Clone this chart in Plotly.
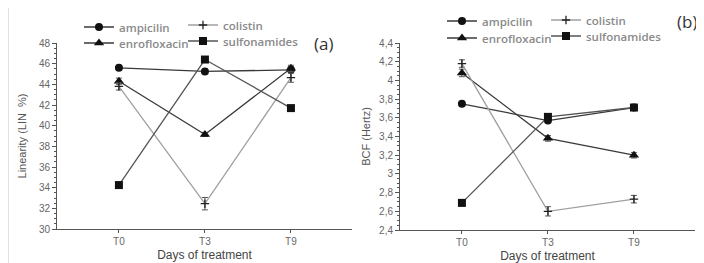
import plotly.graph_objects as go

W, H = 704, 263
OFF = 8  # page body margin
FW, FH = W - OFF, H - OFF

days = ["T0", "T3", "T9"]
drugs = ["ampicilin", "enrofloxacin", "colistin", "sulfonamides"]

lin_ampicilin = [45.6, 45.25, 45.4]
lin_enrofloxacin = [44.3, 39.15, 45.55]
lin_colistin = [43.8, 32.45, 44.65]
lin_sulfonamides = [34.25, 46.4, 41.7]
lin_err_ampicilin = [0.15, 0.2, 0.3]
lin_err_enrofloxacin = [0.3, 0.2, 0.3]
lin_err_colistin = [0.35, 0.6, 0.45]
lin_err_sulfonamides = [0.3, 0.25, 0.2]

bcf_ampicilin = [3.75, 3.57, 3.71]
bcf_enrofloxacin = [4.08, 3.38, 3.20]
bcf_colistin = [4.18, 2.60, 2.73]
bcf_sulfonamides = [2.69, 3.61, 3.71]
bcf_err_ampicilin = [0.02, 0.02, 0.02]
bcf_err_enrofloxacin = [0.04, 0.03, 0.03]
bcf_err_colistin = [0.04, 0.05, 0.04]
bcf_err_sulfonamides = [0.03, 0.03, 0.02]


def px(x):
    return (x - OFF) / FW


def py(y):
    return 1 - (y - OFF) / FH


styles = {
    "ampicilin": dict(symbol="circle", size=8, line="#3a3a3a"),
    "enrofloxacin": dict(symbol="triangle-up", size=9, line="#3a3a3a"),
    "colistin": dict(symbol="cross-thin", size=6, line="#a0a0a0"),
    "sulfonamides": dict(symbol="square", size=8, line="#555555"),
}

# legend text anchor (page px): panel -> drug -> (text_x, text_y)
legend_pos = {
    "a": {"ampicilin": (120, 27), "enrofloxacin": (120, 43), "colistin": (224, 25), "sulfonamides": (224, 41)},
    "b": {"ampicilin": (483, 21), "enrofloxacin": (483, 38), "colistin": (587, 20), "sulfonamides": (587, 36)},
}

panels = [
    ("a", "x", "y", dict(ampicilin=(lin_ampicilin, lin_err_ampicilin),
                         enrofloxacin=(lin_enrofloxacin, lin_err_enrofloxacin),
                         colistin=(lin_colistin, lin_err_colistin),
                         sulfonamides=(lin_sulfonamides, lin_err_sulfonamides))),
    ("b", "x2", "y2", dict(ampicilin=(bcf_ampicilin, bcf_err_ampicilin),
                           enrofloxacin=(bcf_enrofloxacin, bcf_err_enrofloxacin),
                           colistin=(bcf_colistin, bcf_err_colistin),
                           sulfonamides=(bcf_sulfonamides, bcf_err_sulfonamides))),
]

leg_common = dict(orientation="h", xanchor="left", yanchor="middle", bgcolor="rgba(0,0,0,0)",
                  itemwidth=30, tracegroupgap=0,
                  font=dict(family="Open Sans", size=11.5, color="#8a8a8a", weight=600),
                  itemclick=False, itemdoubleclick=False)

fig = go.Figure()
legends = {}
n = 0
for key, xa, ya, data in panels:
    for d in drugs:
        n += 1
        lname = "legend" if n == 1 else f"legend{n}"
        tx, ty = legend_pos[key][d]
        legends[lname] = dict(x=px(tx - 41), y=py(ty), **leg_common)
        vals, err = data[d]
        st = styles[d]
        fig.add_trace(go.Scatter(
            x=days, y=vals, xaxis=xa, yaxis=ya, name=d, mode="lines+markers",
            line=dict(color=st["line"], width=1.3),
            marker=dict(symbol=st["symbol"], size=st["size"], color="#111111",
                        line=dict(color="#222222", width=1.3 if d == "colistin" else 0)),
            error_y=dict(type="data", array=err, color="#555555", thickness=1, width=3),
            legend=lname,
        ))

axis_common = dict(showline=True, linecolor="#555555", linewidth=1, ticks="outside",
                   tickcolor="#555555", showgrid=False, zeroline=False,
                   tickfont=dict(family="Liberation Sans", size=10, color="#666666"))

xtitle = dict(text="Days of treatment", font=dict(family="Liberation Sans", size=12, color="#444444"), standoff=4)

fig.update_layout(
    width=FW, height=FH, margin=dict(l=0, r=0, t=0, b=0, autoexpand=False),
    paper_bgcolor="white", plot_bgcolor="white",
    separators=", ",
    showlegend=True,
    xaxis=dict(domain=[px(57), px(352)], type="category", range=[-0.72, 2.71], anchor="y",
               title=xtitle, ticklen=3, **axis_common),
    yaxis=dict(domain=[py(229), py(43)], range=[30, 48], dtick=2, anchor="x", ticklen=4,
               minor=dict(dtick=0.5, ticks="outside", ticklen=2, tickcolor="#555555"),
               title=dict(text="Linearity (LIN  %)", font=dict(family="Liberation Sans", size=11, color="#555555"), standoff=10),
               **axis_common),
    xaxis2=dict(domain=[px(400), px(695)], type="category", range=[-0.72, 2.71], anchor="y2",
                title=xtitle, ticklen=3, **axis_common),
    yaxis2=dict(domain=[py(230), py(43)], range=[2.4, 4.4], dtick=0.2, anchor="x2", ticklen=4,
                minor=dict(dtick=0.05, ticks="outside", ticklen=2, tickcolor="#555555"),
                title=dict(text="BCF (Hertz)", font=dict(family="Liberation Sans", size=11, color="#555555"), standoff=6),
                **axis_common),
    **legends,
)

fig.add_annotation(text="(a)", x=px(323), y=py(44), xref="paper", yref="paper", showarrow=False,
                   xanchor="center", yanchor="middle",
                   font=dict(family="Open Sans", size=17, color="#333333"))
fig.add_annotation(text="(b)", x=px(687), y=py(21), xref="paper", yref="paper", showarrow=False,
                   xanchor="center", yanchor="middle",
                   font=dict(family="Open Sans", size=17, color="#333333"))
fig.add_shape(type="line", xref="paper", yref="paper", x0=px(8.5), x1=px(8.5), y0=0, y1=1,
              line=dict(color="#e2e2e2", width=1))

fig.write_html("out.html")
